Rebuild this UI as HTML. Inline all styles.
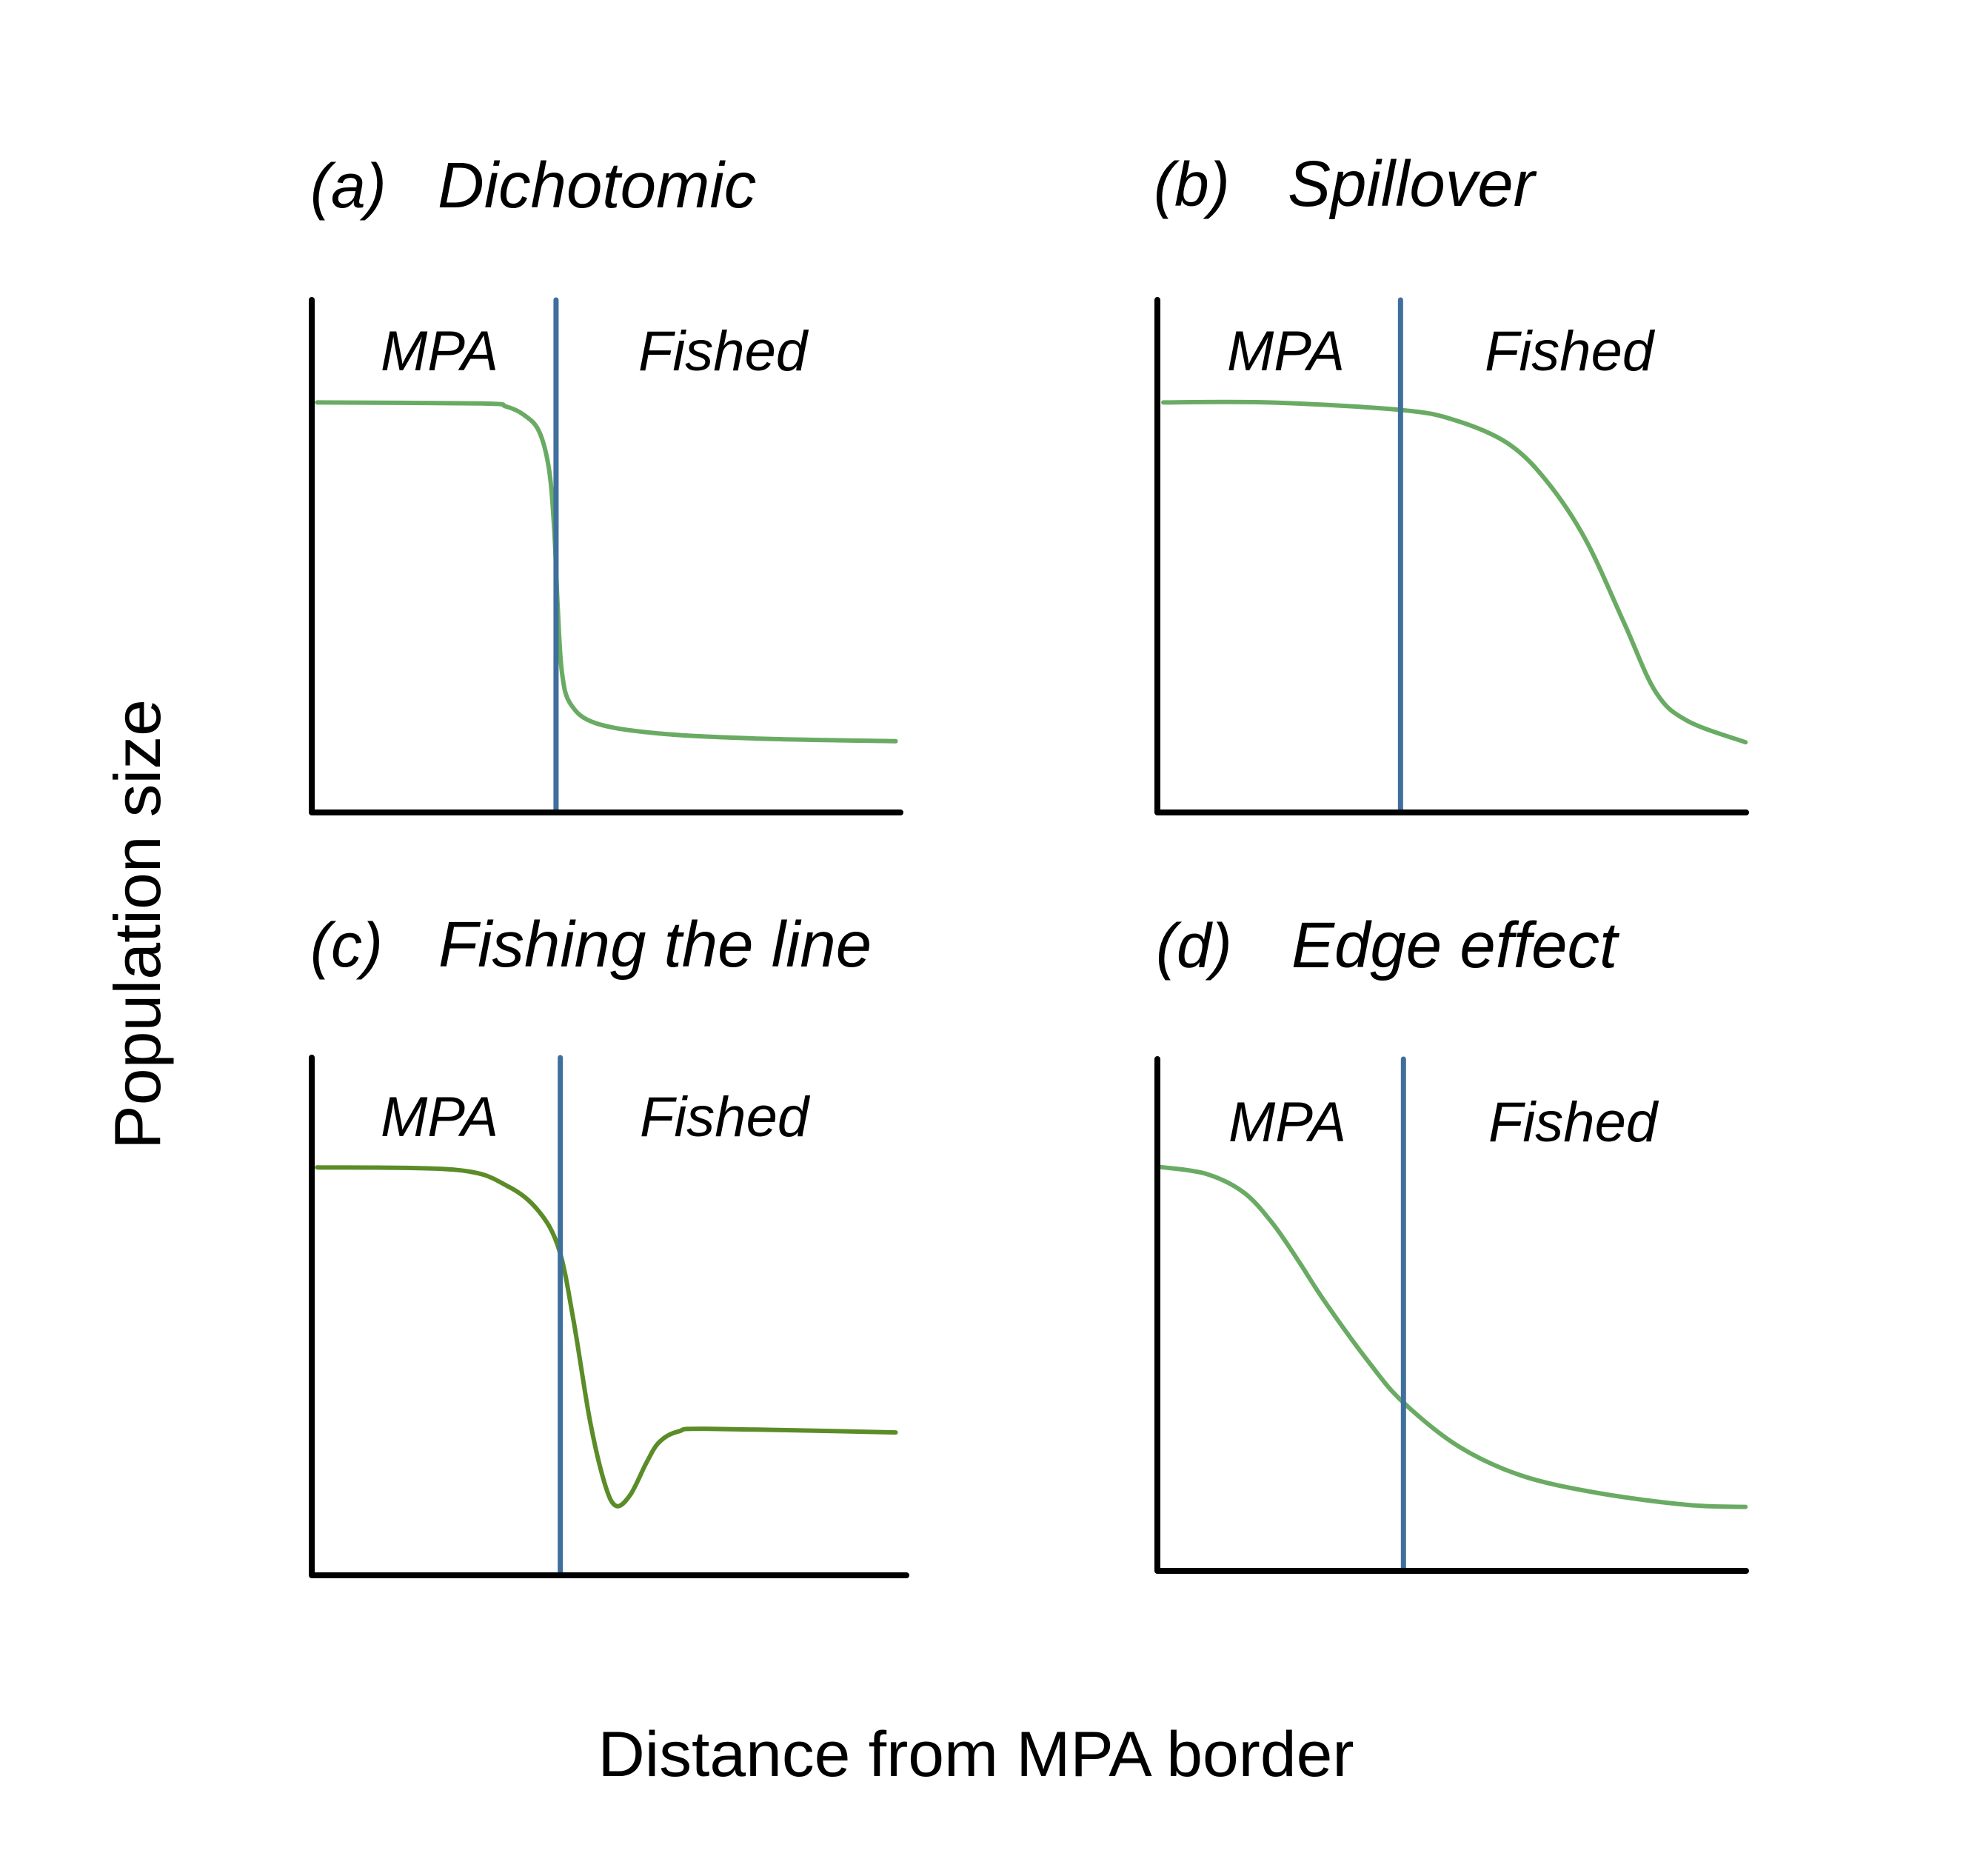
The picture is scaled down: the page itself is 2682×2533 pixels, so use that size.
<!DOCTYPE html>
<html><head><meta charset="utf-8"><style>
html,body{margin:0;padding:0;background:#fff}
svg{display:block}
text{font-family:"Liberation Sans",Arial,sans-serif;fill:#000}
</style></head><body>
<svg id="chart" width="2682" height="2533" viewBox="0 0 2682 2533" xmlns="http://www.w3.org/2000/svg">
<rect width="2682" height="2533" fill="#fff"/>
<text transform="translate(216,1248) rotate(-90)" text-anchor="middle" font-size="88" textLength="608" lengthAdjust="spacingAndGlyphs">Population size</text>
<text x="1318" y="2398" text-anchor="middle" font-size="86" textLength="1021" lengthAdjust="spacingAndGlyphs">Distance from MPA border</text>
</svg>
<script>
// Panel a — Dichotomic
const aX = [0.9, 28.9, 33.0, 36.0, 38.6, 40.3, 41.2, 41.8, 42.5, 44.0, 48.3, 59.1, 76.3, 99.2];
const aY = [80.0, 79.8, 79.2, 77.6, 74.4, 67.0, 55.0, 39.7, 27.3, 21.1, 17.4, 15.4, 14.4, 13.9];
// Panel b — Spillover
const bX = [1.0, 18.9, 41.7, 51.2, 59.8, 66.3, 72.7, 79.2, 84.6, 90.0, 99.9];
const bY = [80.0, 80.0, 78.5, 76.3, 71.8, 64.4, 53.3, 37.2, 23.6, 17.9, 13.7];
// Panel c — Fishing the line
const cX = [0.9, 24.4, 32.9, 38.2, 41.6, 44.0, 46.8, 49.3, 51.2, 53.6, 56.4, 58.5, 61.7, 67.0, 98.2];
const cY = [78.8, 78.3, 75.2, 70.3, 62.9, 49.4, 29.8, 17.6, 13.4, 15.6, 22.0, 25.8, 27.8, 28.3, 27.6];
// Panel d — Edge effect
const dX = [0.6, 8.2, 14.6, 19.5, 24.0, 28.5, 36.1, 41.7, 51.2, 61.9, 74.9, 90.0, 99.9];
const dY = [78.9, 77.6, 74.0, 68.0, 60.5, 52.5, 40.5, 33.0, 24.3, 18.6, 15.2, 12.9, 12.5];
// MPA border positions (distance units)
const borders = [41.5, 41.3, 41.8, 41.8];
const letters = ["(a)", "(b)", "(c)", "(d)"];
const names = ["Dichotomic", "Spillover", "Fishing the line", "Edge effect"];

const NS = "http://www.w3.org/2000/svg";
const svg = document.getElementById("chart");
const panels = [
  {id:"a", x0:421, x1:1216, y0:1097, y1:405, tx:419, nx:591, ty:280, mx:514, fx:862, my:500, col:"#6aab64", xs:aX, ys:aY},
  {id:"b", x0:1563, x1:2358, y0:1097, y1:405, tx:1558, nx:1739, ty:278, mx:1657, fx:2005, my:500, col:"#6aab64", xs:bX, ys:bY},
  {id:"c", x0:421, x1:1224, y0:2127, y1:1428, tx:419, nx:592, ty:1305, mx:514, fx:864, my:1534, col:"#5b8c28", xs:cX, ys:cY},
  {id:"d", x0:1563, x1:2358, y0:2121, y1:1430, tx:1561, nx:1744, ty:1306, mx:1659, fx:2010, my:1541, col:"#6aab64", xs:dX, ys:dY}
];
function mk(tag, attrs){const e=document.createElementNS(NS,tag);for(const k in attrs)e.setAttribute(k,attrs[k]);return e;}
panels.forEach((p,i)=>{
  const sx = v => p.x0 + (p.x1-p.x0)*v/100;
  const sy = v => p.y0 - (p.y0-p.y1)*v/100;
  const g = mk("g",{});
  
  
  svg.appendChild(g);
  const t1 = mk("text",{x:p.tx,y:p.ty,"font-size":84,"font-style":"italic"});
  
  
  t1.textContent = letters[i]; g.appendChild(t1);
  const t2 = mk("text",{x:p.nx,y:p.ty,"font-size":87,"font-style":"italic"});
  
  
  t2.textContent = names[i]; g.appendChild(t2);
  const m = mk("text",{x:p.mx,y:p.my,"font-size":76,"font-style":"italic"});
  
  
  m.textContent = "MPA"; g.appendChild(m);
  const f = mk("text",{x:p.fx,y:p.my,"font-size":76,"font-style":"italic"});
  
  
  f.textContent = "Fished"; g.appendChild(f);
  const pts = p.xs.map((v,k)=>[sx(v), sy(p.ys[k])]);
  let d = "M"+pts[0][0].toFixed(1)+","+pts[0][1].toFixed(1);
  for(let k=0;k<pts.length-1;k++){
    const p0=pts[Math.max(k-1,0)], p1=pts[k], p2=pts[k+1], p3=pts[Math.min(k+2,pts.length-1)];
    const c1=[p1[0]+(p2[0]-p0[0])/6, p1[1]+(p2[1]-p0[1])/6];
    const c2=[p2[0]-(p3[0]-p1[0])/6, p2[1]-(p3[1]-p1[1])/6];
    d += " C"+c1[0].toFixed(1)+","+c1[1].toFixed(1)+" "+c2[0].toFixed(1)+","+c2[1].toFixed(1)+" "+p2[0].toFixed(1)+","+p2[1].toFixed(1);
  }
  const path = mk("path",{d:d,fill:"none",stroke:p.col,"stroke-width":6,"stroke-linecap":"round","stroke-linejoin":"round"});
  
  
  g.appendChild(path);
  const bx = sx(borders[i]);
  const bl = mk("line",{x1:bx,x2:bx,y1:p.y1,y2:p.y0,stroke:"#3f6f9d","stroke-width":7,"stroke-linecap":"round"});
  
  
  g.appendChild(bl);
  const ax = mk("path",{d:"M"+p.x0+","+p.y1+" L"+p.x0+","+p.y0+" L"+p.x1+","+p.y0,fill:"none",stroke:"#000","stroke-width":8,"stroke-linecap":"round","stroke-linejoin":"round"});
  
  
  g.appendChild(ax);
});
</script>
</body></html>
